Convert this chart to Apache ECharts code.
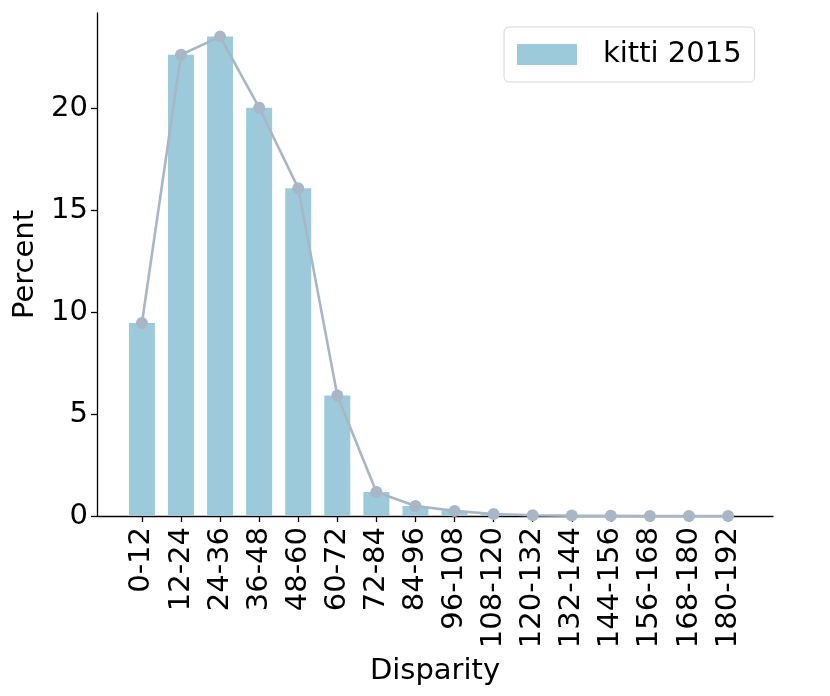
<!DOCTYPE html>
<html>
<head>
<meta charset="utf-8">
<script src="https://cdn.jsdelivr.net/npm/echarts@6/dist/echarts.min.js"></script>
<style>
  html, body { margin: 0; padding: 0; background: #fff; }
  #chart { width: 830px; height: 696px; }
</style>
</head>
<body>
<div id="chart"></div>
<script>
const categories = ['0-12', '12-24', '24-36', '36-48', '48-60', '60-72', '72-84', '84-96',
  '96-108', '108-120', '120-132', '132-144', '144-156', '156-168', '168-180', '180-192']
const percentValues = [9.48, 22.65, 23.54, 20.05, 16.1, 5.92, 1.18, 0.49,
  0.25, 0.1, 0.04, 0.02, 0.01, 0.0, 0.0, 0.0]
const yTicks = [0, 5, 10, 15, 20]
const seriesName = 'kitti 2015'

const xTicks = categories.map((c, i) => i)
const barData = percentValues.map((v, i) => [i, v])

const font = 'DejaVu Sans'
const option = {
  animation: false,
  grid: { left: 97, right: 57, top: 13, bottom: 180 },
  legend: {
    data: [{ name: seriesName, icon: 'rect' }],
    left: 504,
    top: 27,
    itemWidth: 60,
    itemHeight: 21,
    padding: [13, 13, 13, 13],
    borderColor: '#d6d6d6',
    borderWidth: 1,
    borderRadius: 5,
    textStyle: { fontFamily: font, fontSize: 29, color: '#000', padding: [0, 0, 0, 21] }
  },
  xAxis: {
    type: 'value',
    min: -1.15,
    max: 16.15,
    name: 'Disparity',
    nameLocation: 'middle',
    nameGap: 141,
    nameTextStyle: { fontFamily: font, fontSize: 29, color: '#000' },
    splitLine: { show: false },
    axisLine: { show: true, onZero: false, lineStyle: { color: '#000', width: 1.3 } },
    axisTick: { show: true, length: 6, customValues: xTicks, lineStyle: { color: '#000', width: 1.3 } },
    axisLabel: {
      customValues: xTicks,
      rotate: 90,
      margin: 11,
      fontFamily: font,
      fontSize: 29,
      color: '#000',
      formatter: v => categories[Math.round(v)]
    }
  },
  yAxis: {
    type: 'value',
    min: 0,
    max: 24.7,
    name: 'Percent',
    nameLocation: 'middle',
    nameGap: 54,
    nameTextStyle: { fontFamily: font, fontSize: 29, color: '#000' },
    splitLine: { show: false },
    axisLine: { show: true, onZero: false, lineStyle: { color: '#000', width: 1.3 } },
    axisTick: { show: true, length: 6, customValues: yTicks, lineStyle: { color: '#000', width: 1.3 } },
    axisLabel: { customValues: yTicks, margin: 9, fontFamily: font, fontSize: 29, color: '#000' }
  },
  series: [
    {
      name: seriesName,
      type: 'bar',
      barWidth: 26,
      itemStyle: { color: '#9ccadb' },
      data: barData
    },
    {
      name: 'line',
      type: 'line',
      symbol: 'circle',
      symbolSize: 12,
      itemStyle: { color: '#a8b6c5' },
      lineStyle: { color: '#a8b6c5', width: 2.6 },
      data: barData,
      z: 3
    }
  ]
}

const myChart = echarts.init(document.getElementById('chart'))
myChart.setOption(option)
</script>
</body>
</html>
